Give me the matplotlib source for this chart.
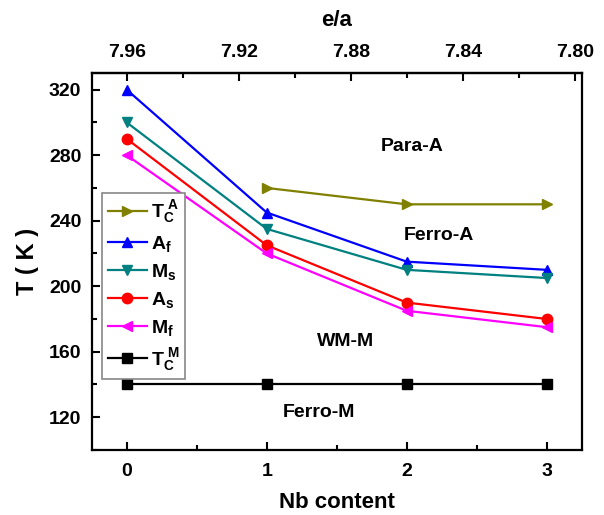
import matplotlib
matplotlib.use("Agg")
import matplotlib.pyplot as plt
from matplotlib.ticker import MultipleLocator

plt.rcParams['font.family'] = ['Liberation Sans', 'DejaVu Sans']
plt.rcParams['font.weight'] = 'bold'
plt.rcParams['mathtext.fontset'] = 'custom'
plt.rcParams['mathtext.bf'] = 'Liberation Sans:bold'
plt.rcParams['mathtext.rm'] = 'Liberation Sans:bold'
plt.rcParams['mathtext.it'] = 'Liberation Sans:bold'

# Nb content and transition temperatures (K)
nb = [0, 1, 2, 3]
nb_tca = [1, 2, 3]
tc_a = [260, 250, 250]
a_f = [320, 245, 215, 210]
m_s = [300, 235, 210, 205]
a_s = [290, 225, 190, 180]
m_f = [280, 220, 185, 175]
tc_m = [140, 140, 140, 140]

ea_ticks = [7.96, 7.92, 7.88, 7.84, 7.80]
phase_labels = [("Para-A", 2.04, 285), ("Ferro-A", 2.23, 231),
                ("WM-M", 1.56, 166), ("Ferro-M", 1.37, 123)]

fig = plt.figure(figsize=(6.04, 5.15), dpi=100)
ax = fig.add_axes([0.1518, 0.1262, 0.8113, 0.7315])

lw = 1.6
ms = 7.5
ax.plot(nb_tca, tc_a, color='#808000', marker='>', lw=lw, ms=ms, label=r'$\mathbf{T_C^{\ A}}$')
ax.plot(nb, a_f, color='#0000ff', marker='^', lw=lw, ms=ms, label=r'$\mathbf{A_f}$')
ax.plot(nb, m_s, color='#008080', marker='v', lw=lw, ms=ms, label=r'$\mathbf{M_s}$')
ax.plot(nb, a_s, color='#ff0000', marker='o', lw=lw, ms=ms, label=r'$\mathbf{A_s}$')
ax.plot(nb, m_f, color='#ff00ff', marker='<', lw=lw, ms=ms, label=r'$\mathbf{M_f}$')
ax.plot(nb, tc_m, color='#000000', marker='s', lw=lw, ms=6.5, label=r'$\mathbf{T_C^{\ M}}$')

ax.set_xlim(-0.25, 3.25)
ax.set_ylim(100, 330)
ax.xaxis.set_major_locator(MultipleLocator(1))
ax.xaxis.set_minor_locator(MultipleLocator(0.5))
ax.yaxis.set_major_locator(MultipleLocator(40))
ax.yaxis.set_minor_locator(MultipleLocator(20))
ax.tick_params(which='both', direction='in', top=False, right=False, width=1.5)
ax.tick_params(which='major', length=6, labelsize=14)
ax.tick_params(which='minor', length=3.5)
ax.tick_params(axis='x', which='major', pad=9)
ax.tick_params(axis='y', which='major', pad=7.5)
for s in ax.spines.values():
    s.set_linewidth(1.6)

ax.set_xlabel('Nb content', fontsize=16, fontweight='bold', labelpad=9)
ax.set_ylabel('T ( K )', fontsize=17, fontweight='bold', labelpad=7)

# Top axis: valence electron concentration
def nb_to_ea(x):
    return 7.96 - 0.05 * x

def ea_to_nb(e):
    return (7.96 - e) / 0.05

sec = ax.secondary_xaxis('top', functions=(nb_to_ea, ea_to_nb))
sec.set_xticks(ea_ticks)
sec.xaxis.set_minor_locator(MultipleLocator(0.02))
sec.tick_params(which='both', direction='in', width=1.5)
sec.tick_params(which='major', length=6, labelsize=14, pad=9)
sec.tick_params(which='minor', length=3.5)
sec.set_xlabel('e/a', fontsize=16, fontweight='bold', labelpad=13)
sec.spines['top'].set_linewidth(1.6)

for txt, x, y in phase_labels:
    ax.text(x, y, txt, fontsize=14, fontweight='bold', ha='center', va='center')

leg = ax.legend(loc='upper left', bbox_to_anchor=(0.021, 0.683), fontsize=14,
                handlelength=2.0, handletextpad=0.2, labelspacing=0.42,
                borderpad=0.3, borderaxespad=0, fancybox=False, framealpha=1)
leg.get_frame().set_edgecolor('#888888')
leg.get_frame().set_linewidth(1.2)

fig.savefig('out.png', dpi=100)
